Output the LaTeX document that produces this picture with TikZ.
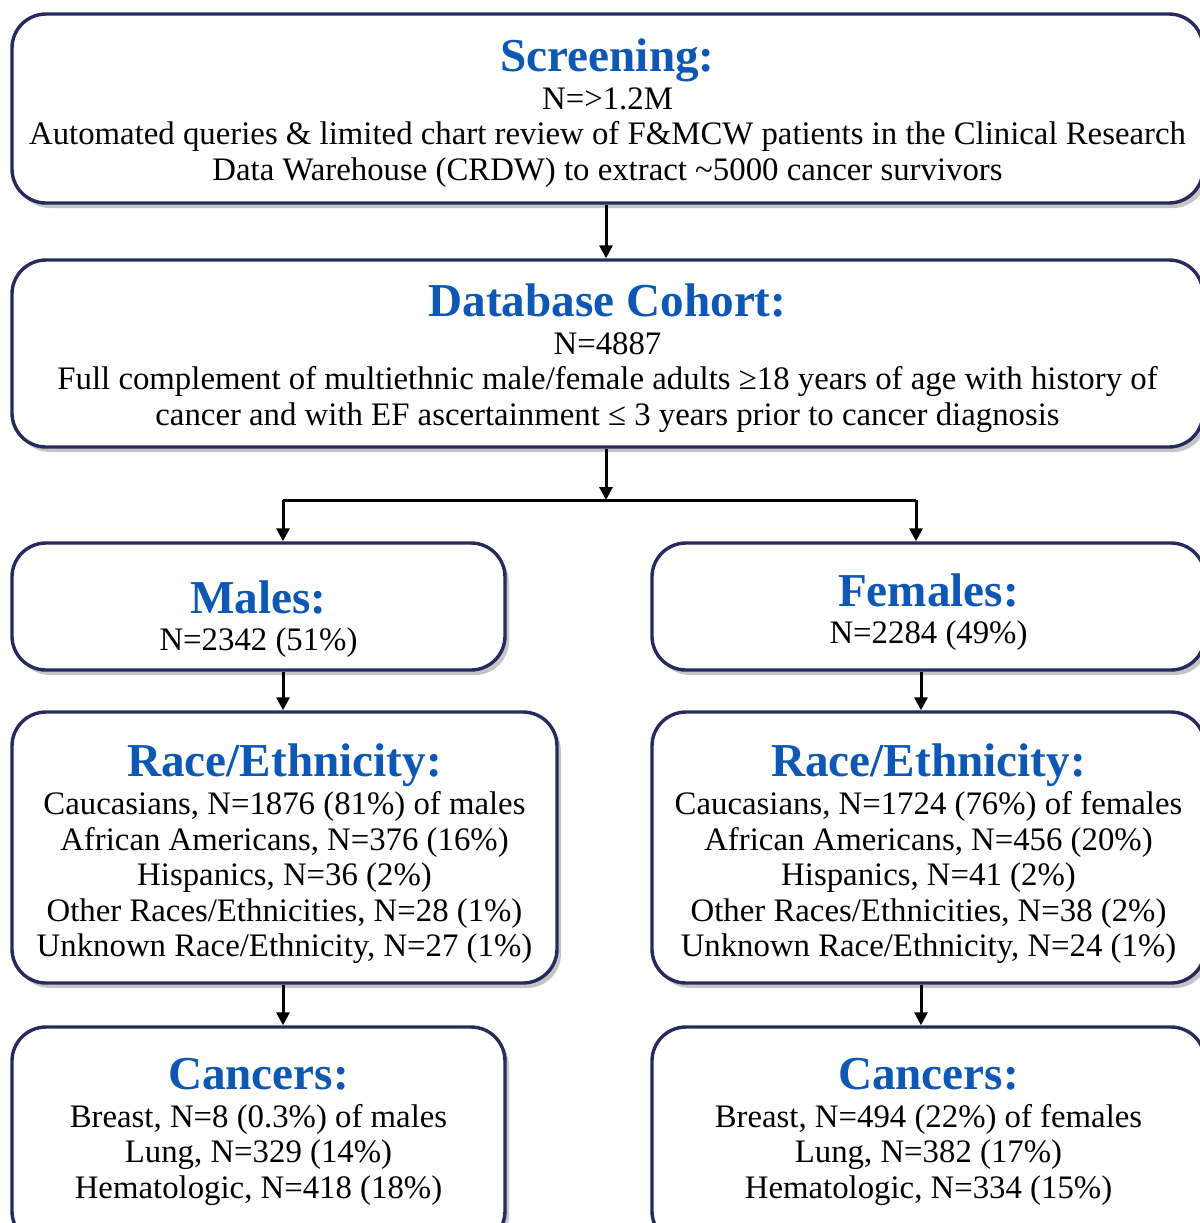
\documentclass[tikz,border=0pt]{standalone}
\usepackage{fontspec}
\setmainfont{Liberation Serif}
\usetikzlibrary{shadows,arrows.meta}
\definecolor{titleblue}{RGB}{12,88,180}
\definecolor{boxline}{RGB}{38,42,92}
\newcommand{\boxtitle}[1]{{\fontsize{23.6}{25}\selectfont\bfseries\color{titleblue}#1}}

\begin{document}
\begin{tikzpicture}[x=0.5pt,y=-0.5pt,>={Triangle[length=6.5pt,width=6.5pt]}]
    \tikzstyle{box}=[draw=boxline,line width=1.7pt,fill=white,rounded corners=17pt,
        drop shadow={shadow xshift=2pt,shadow yshift=-2.5pt,fill=black!45,opacity=.5}]
    \tikzstyle{boxtext}=[align=center,font=\fontsize{16.4}{17.8}\selectfont,inner sep=0pt]
    \tikzstyle{link}=[->,line width=1.5pt,black]

    \path[use as bounding box,clip] (0,0) rectangle (1200,1223);

    % Boxes
    \node[box,minimum width=595.5pt,minimum height=94.5pt] (screen) at (607.5,108.5) {};
    \node[box,minimum width=595.5pt,minimum height=93.5pt] (cohort) at (607.5,353.5) {};
    \node[box,minimum width=246.5pt,minimum height=63.5pt] (males) at (258.5,606.5) {};
    \node[box,minimum width=272.5pt,minimum height=135.5pt] (raceM) at (284.5,847.5) {};
    \node[box,minimum width=246.5pt,minimum height=109pt] (cancM) at (258.5,1136) {};
    \node[box,minimum width=276.5pt,minimum height=63.5pt] (females) at (928.5,606.5) {};
    \node[box,minimum width=276.5pt,minimum height=135.5pt] (raceF) at (928.5,847.5) {};
    \node[box,minimum width=276.5pt,minimum height=109pt] (cancF) at (928.5,1136) {};

    % Texts in the boxes
    \node[boxtext] (screen-t) at ([yshift=-2.25pt]screen.center)
        {\boxtitle{Screening:}\\[1pt] N=>1.2M\\
         Automated queries \& limited chart review of F\&MCW patients in the Clinical Research\\
         Data Warehouse (CRDW) to extract \textasciitilde5000 cancer survivors};
    \node[boxtext] (cohort-t) at ([yshift=-2.25pt]cohort.center)
        {\boxtitle{Database Cohort:}\\[1pt] N=4887\\
         Full complement of multiethnic male/female adults ≥18 years of age with history of\\
         cancer and with EF ascertainment ≤ 3 years prior to cancer diagnosis};
    \node[boxtext] (males-t) at ([yshift=-6.25pt]males.center)
        {\boxtitle{Males:}\\[1pt] N=2342 (51\%)};
    \node[boxtext] (females-t) at ([yshift=-2.75pt]females.center)
        {\boxtitle{Females:}\\[1pt] N=2284 (49\%)};
    \node[boxtext] (raceM-t) at ([yshift=-3.25pt]raceM.center)
        {\boxtitle{Race/Ethnicity:}\\[1pt]
         Caucasians, N=1876 (81\%) of males\\
         African Americans, N=376 (16\%)\\
         Hispanics, N=36 (2\%)\\
         Other Races/Ethnicities, N=28 (1\%)\\
         Unknown Race/Ethnicity, N=27 (1\%)};
    \node[boxtext] (raceF-t) at ([yshift=-3.25pt]raceF.center)
        {\boxtitle{Race/Ethnicity:}\\[1pt]
         Caucasians, N=1724 (76\%) of females\\
         African Americans, N=456 (20\%)\\
         Hispanics, N=41 (2\%)\\
         Other Races/Ethnicities, N=38 (2\%)\\
         Unknown Race/Ethnicity, N=24 (1\%)};
    \node[boxtext] (cancM-t) at ([yshift=2pt]cancM.center)
        {\boxtitle{Cancers:}\\[1pt]
         Breast, N=8 (0.3\%) of males\\
         Lung, N=329 (14\%)\\
         Hematologic, N=418 (18\%)};
    \node[boxtext] (cancF-t) at ([yshift=2pt]cancF.center)
        {\boxtitle{Cancers:}\\[1pt]
         Breast, N=494 (22\%) of females\\
         Lung, N=382 (17\%)\\
         Hematologic, N=334 (15\%)};

    % Split point under the cohort
    \coordinate (split) at (606,500);
    \coordinate (lsplit) at (283,500);
    \coordinate (rsplit) at (916,500);
    \coordinate (lcol) at (283,0);
    \coordinate (rcol) at (921,0);

    % Connect the boxes
    \draw[link] (screen.south -| split) -- (cohort.north -| split);
    \draw[link] (cohort.south -| split) -- (split);
    \draw[line width=1.5pt] (lsplit) -- (rsplit);
    \draw[link] (lsplit) -- (males.north -| lsplit);
    \draw[link] (rsplit) -- (females.north -| rsplit);
    \draw[link] (males.south -| lcol) -- (raceM.north -| lcol);
    \draw[link] (females.south -| rcol) -- (raceF.north -| rcol);
    \draw[link] (raceM.south -| lcol) -- (cancM.north -| lcol);
    \draw[link] (raceF.south -| rcol) -- (cancF.north -| rcol);
\end{tikzpicture}
\end{document}
